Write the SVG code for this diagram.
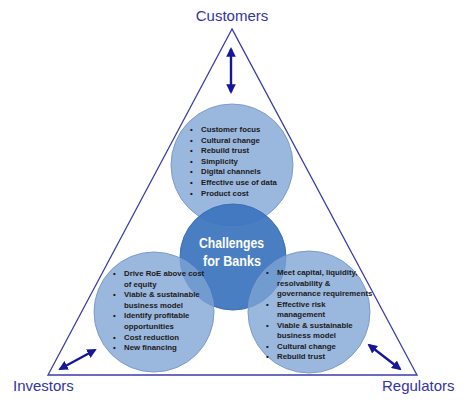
<svg xmlns="http://www.w3.org/2000/svg" width="465" height="400" viewBox="0 0 465 400">
<defs>
<marker id="ah" viewBox="0 0 10 10" refX="8" refY="5" markerWidth="4" markerHeight="4" orient="auto-start-reverse">
<path d="M0,0 L10,5 L0,10 z" fill="#16169a"/>
</marker>
<style>
.lbl{font-family:"Liberation Sans",Arial,sans-serif;font-size:15px;fill:#3434a2}
.light{fill:#7ea3d4;fill-opacity:0.78;stroke:#7d9ccc;stroke-width:1}
.core{fill:#3c74bd;fill-opacity:0.93;stroke:#3a6fb4;stroke-width:1}
.b{font-family:"Liberation Sans",Arial,sans-serif;font-size:7.8px;font-weight:bold;fill:#1a1a1a}
.ctr{font-family:"Liberation Sans",Arial,sans-serif;font-size:14px;font-weight:bold;fill:#ffffff}
.arr{stroke:#16169a;stroke-width:2.4;fill:none;marker-start:url(#ah);marker-end:url(#ah)}
</style>
</defs>
<rect width="465" height="400" fill="#ffffff"/>
<g id="triangle">
<polygon points="232,29 48,375 417,375" fill="none" stroke="#3b3ba8" stroke-width="1.3"/>
</g>
<g id="label-customers"><text class="lbl" x="232" y="21" text-anchor="middle">Customers</text></g>
<g id="label-investors"><text class="lbl" x="13" y="391">Investors</text></g>
<g id="label-regulators"><text class="lbl" x="382" y="391">Regulators</text></g>
<g id="connectors">
<line class="arr" x1="231" y1="49" x2="231" y2="92"/>
<line class="arr" x1="60" y1="369" x2="95" y2="350"/>
<line class="arr" x1="369" y1="345" x2="400" y2="369"/>
</g>
<g id="customers-circle">
<circle class="light" cx="232" cy="165" r="61"/>
<g class="b">
<text x="190" y="132">•</text><text x="201" y="132">Customer focus</text>
<text x="190" y="142.6">•</text><text x="201" y="142.6">Cultural change</text>
<text x="190" y="153.2">•</text><text x="201" y="153.2">Rebuild trust</text>
<text x="190" y="163.8">•</text><text x="201" y="163.8">Simplicity</text>
<text x="190" y="174.4">•</text><text x="201" y="174.4">Digital channels</text>
<text x="190" y="185">•</text><text x="201" y="185">Effective use of data</text>
<text x="190" y="195.6">•</text><text x="201" y="195.6">Product cost</text>
</g>
</g>
<g id="center">
<circle class="core" cx="233" cy="257" r="53"/>
</g>
<g id="investors-circle">
<circle class="light" cx="154" cy="312" r="60"/>
<g class="b">
<text x="113" y="276">•</text><text x="124" y="276">Drive RoE above cost</text>
<text x="124" y="286.6">of equity</text>
<text x="113" y="297.2">•</text><text x="124" y="297.2">Viable &amp; sustainable</text>
<text x="124" y="307.8">business model</text>
<text x="113" y="318.4">•</text><text x="124" y="318.4">Identify profitable</text>
<text x="124" y="329">opportunities</text>
<text x="113" y="339.6">•</text><text x="124" y="339.6">Cost reduction</text>
<text x="113" y="350.2">•</text><text x="124" y="350.2">New financing</text>
</g>
</g>
<g id="regulators-circle">
<circle class="light" cx="309" cy="312" r="61"/>
<g class="b">
<text x="266" y="275">•</text><text x="277" y="275">Meet capital, liquidity,</text>
<text x="277" y="285.5">resolvability &amp;</text>
<text x="277" y="296">governance requirements</text>
<text x="266" y="306.5">•</text><text x="277" y="306.5">Effective risk</text>
<text x="277" y="317">management</text>
<text x="266" y="327.5">•</text><text x="277" y="327.5">Viable &amp; sustainable</text>
<text x="277" y="338">business model</text>
<text x="266" y="348.5">•</text><text x="277" y="348.5">Cultural change</text>
<text x="266" y="359">•</text><text x="277" y="359">Rebuild trust</text>
</g>
</g>
<g id="center-label">
<text class="ctr" x="199" y="248" textLength="65" lengthAdjust="spacingAndGlyphs">Challenges</text>
<text class="ctr" x="203" y="266" textLength="58" lengthAdjust="spacingAndGlyphs">for Banks</text>
</g>
</svg>
